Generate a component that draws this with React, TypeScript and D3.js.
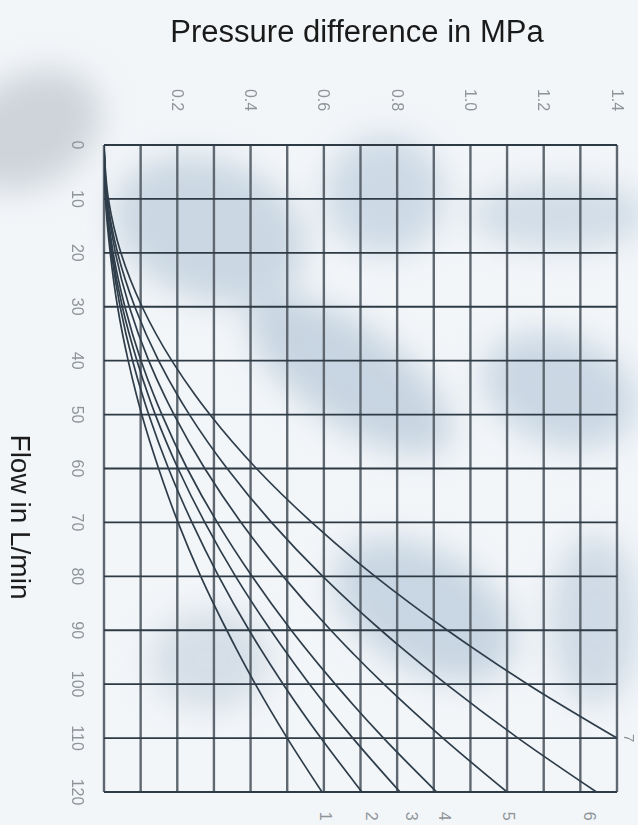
import React from 'react';
import * as d3 from 'd3';

const W = 638;
const H = 825;

// grid values
const pressureGrid = [0, 0.1, 0.2, 0.3, 0.4, 0.5, 0.6, 0.7, 0.8, 0.9, 1.0, 1.1, 1.2, 1.3, 1.4];
const flowGrid = [0, 10, 20, 30, 40, 50, 60, 70, 80, 90, 100, 110, 120];
const pressureTicks = [0.2, 0.4, 0.6, 0.8, 1.0, 1.2, 1.4];
const pressureTickLabels = ['0.2', '0.4', '0.6', '0.8', '1.0', '1.2', '1.4'];
const flowTicks = [0, 10, 20, 30, 40, 50, 60, 70, 80, 90, 100, 110, 120];

// curves: pressure read at each flow step
const flowSteps = [0, 10, 20, 30, 40, 50, 60, 70, 80, 90, 100, 110, 120];
const curve1 = [0, 0.004, 0.017, 0.037, 0.066, 0.103, 0.149, 0.202, 0.264, 0.335, 0.413, 0.5, 0.595];
const curve2 = [0, 0.005, 0.02, 0.044, 0.078, 0.122, 0.176, 0.24, 0.313, 0.396, 0.489, 0.592, 0.704];
const curve3 = [0, 0.006, 0.022, 0.05, 0.09, 0.14, 0.202, 0.275, 0.359, 0.455, 0.561, 0.679, 0.808];
const curve4 = [0, 0.006, 0.025, 0.057, 0.101, 0.158, 0.227, 0.309, 0.404, 0.511, 0.631, 0.763, 0.908];
const curve5 = [0, 0.008, 0.031, 0.069, 0.122, 0.191, 0.275, 0.374, 0.489, 0.619, 0.764, 0.925, 1.1];
const curve6 = [0, 0.009, 0.037, 0.084, 0.149, 0.233, 0.336, 0.457, 0.597, 0.756, 0.934, 1.13, 1.344];
const curve7 = [0, 0.012, 0.046, 0.104, 0.185, 0.289, 0.416, 0.567, 0.74, 0.937, 1.156, 1.4];
const curves = [curve1, curve2, curve3, curve4, curve5, curve6, curve7];

// curve labels (pressure, flow position)
const curveLabelText = ['1', '2', '3', '4', '5', '6'];
const curveLabelP = [0.605, 0.73, 0.84, 0.93, 1.105, 1.325];
const curveLabelQ = 124.5;
const sideLabelText = ['7'];
const sideLabelQ = [110];

const FONT = '"Liberation Sans", Arial, Helvetica, sans-serif';

export default function App() {
  const x = d3.scaleLinear().domain([0, 1.4]).range([104, 617]);
  const y = d3.scaleLinear().domain([0, 120]).range([145, 792]);

  const line = d3
    .line<number>()
    .x((d) => x(d))
    .y((_, i) => y(flowSteps[i]))
    .curve(d3.curveMonotoneY);

  return (
    <svg
      width={W}
      height={H}
      viewBox={`0 0 ${W} ${H}`}
      style={{ position: 'absolute', left: 0, top: 0 }}
    >
      <defs>
        <filter id="blur" x="-50%" y="-50%" width="200%" height="200%">
          <feGaussianBlur stdDeviation="16" />
        </filter>
        <filter id="soft" x="-10%" y="-10%" width="120%" height="120%">
          <feGaussianBlur stdDeviation="0.6" />
        </filter>
        <clipPath id="plot">
          <rect x={x(0)} y={y(0)} width={x(1.4) - x(0)} height={y(120) - y(0)} />
        </clipPath>
      </defs>
      <rect x={0} y={0} width={W} height={H} fill="#f3f6f9" />
      {/* watermark */}
      <g filter="url(#blur)" opacity={0.5}>
        <ellipse cx={30} cy={130} rx={75} ry={55} fill="#a9b2bb" transform="rotate(-30 30 130)" />
        <ellipse cx={210} cy={230} rx={100} ry={70} fill="#a3b9cc" transform="rotate(20 210 230)" />
        <ellipse cx={385} cy={195} rx={60} ry={60} fill="#a7bed2" />
        <ellipse cx={560} cy={215} rx={90} ry={35} fill="#b0c4d5" />
        <ellipse cx={350} cy={375} rx={120} ry={50} fill="#9db5ca" transform="rotate(35 350 375)" />
        <ellipse cx={560} cy={390} rx={80} ry={55} fill="#a2bacf" transform="rotate(20 560 390)" />
        <ellipse cx={425} cy={610} rx={100} ry={60} fill="#9fb7cc" transform="rotate(30 425 610)" />
        <ellipse cx={210} cy={660} rx={60} ry={50} fill="#b8c8d6" />
        <ellipse cx={595} cy={620} rx={45} ry={85} fill="#abc0d3" />
      </g>
      <g filter="url(#soft)">
        {/* vertical grid */}
        {pressureGrid.map((p) => (
          <line
            key={'v' + p}
            x1={x(p)}
            x2={x(p)}
            y1={y(0)}
            y2={y(120)}
            stroke="#5e6870"
            strokeWidth={2.4}
          />
        ))}
        {/* horizontal grid */}
        {flowGrid.map((q) => (
          <line
            key={'h' + q}
            x1={x(0)}
            x2={x(1.4)}
            y1={y(q)}
            y2={y(q)}
            stroke="#2f3a44"
            strokeWidth={1.8}
          />
        ))}
        {/* curves */}
        <g clipPath="url(#plot)">
          {curves.map((c, i) => (
            <path
              key={'c' + i}
              d={line(c) || ''}
              fill="none"
              stroke="#2e3d4a"
              strokeWidth={1.7}
            />
          ))}
        </g>
      </g>
      {/* title */}
      <text
        x={357}
        y={42}
        textAnchor="middle"
        fontFamily={FONT}
        fontSize={31}
        fill="#1a1a1a"
      >
        Pressure difference in MPa
      </text>
      <text
        transform={`translate(11, ${y(69)}) rotate(90)`}
        textAnchor="middle"
        fontFamily={FONT}
        fontSize={28}
        fill="#1a1a1a"
      >
        Flow in L/min
      </text>
      {/* top tick labels */}
      {pressureTicks.map((p, i) => (
        <text
          key={'pt' + p}
          transform={`translate(${x(p)}, 100) rotate(90)`}
          textAnchor="middle"
          dominantBaseline="central"
          fontFamily={FONT}
          fontSize={16}
          fill="#8f9498"
        >
          {pressureTickLabels[i]}
        </text>
      ))}
      {/* left tick labels */}
      {flowTicks.map((q) => (
        <text
          key={'ft' + q}
          transform={`translate(77, ${y(q)}) rotate(90)`}
          textAnchor="middle"
          dominantBaseline="central"
          fontFamily={FONT}
          fontSize={16}
          fill="#8f9498"
        >
          {q}
        </text>
      ))}
      {/* curve labels */}
      {curveLabelText.map((t, i) => (
        <text
          key={'cl' + t}
          transform={`translate(${x(curveLabelP[i])}, ${y(curveLabelQ)}) rotate(90)`}
          textAnchor="middle"
          dominantBaseline="central"
          fontFamily={FONT}
          fontSize={16}
          fill="#8f9498"
        >
          {t}
        </text>
      ))}
      {sideLabelText.map((t, i) => (
        <text
          key={'sl' + t}
          transform={`translate(629, ${y(sideLabelQ[i])}) rotate(90)`}
          textAnchor="middle"
          dominantBaseline="central"
          fontFamily={FONT}
          fontSize={15}
          fill="#8f9498"
        >
          {t}
        </text>
      ))}
    </svg>
  );
}
